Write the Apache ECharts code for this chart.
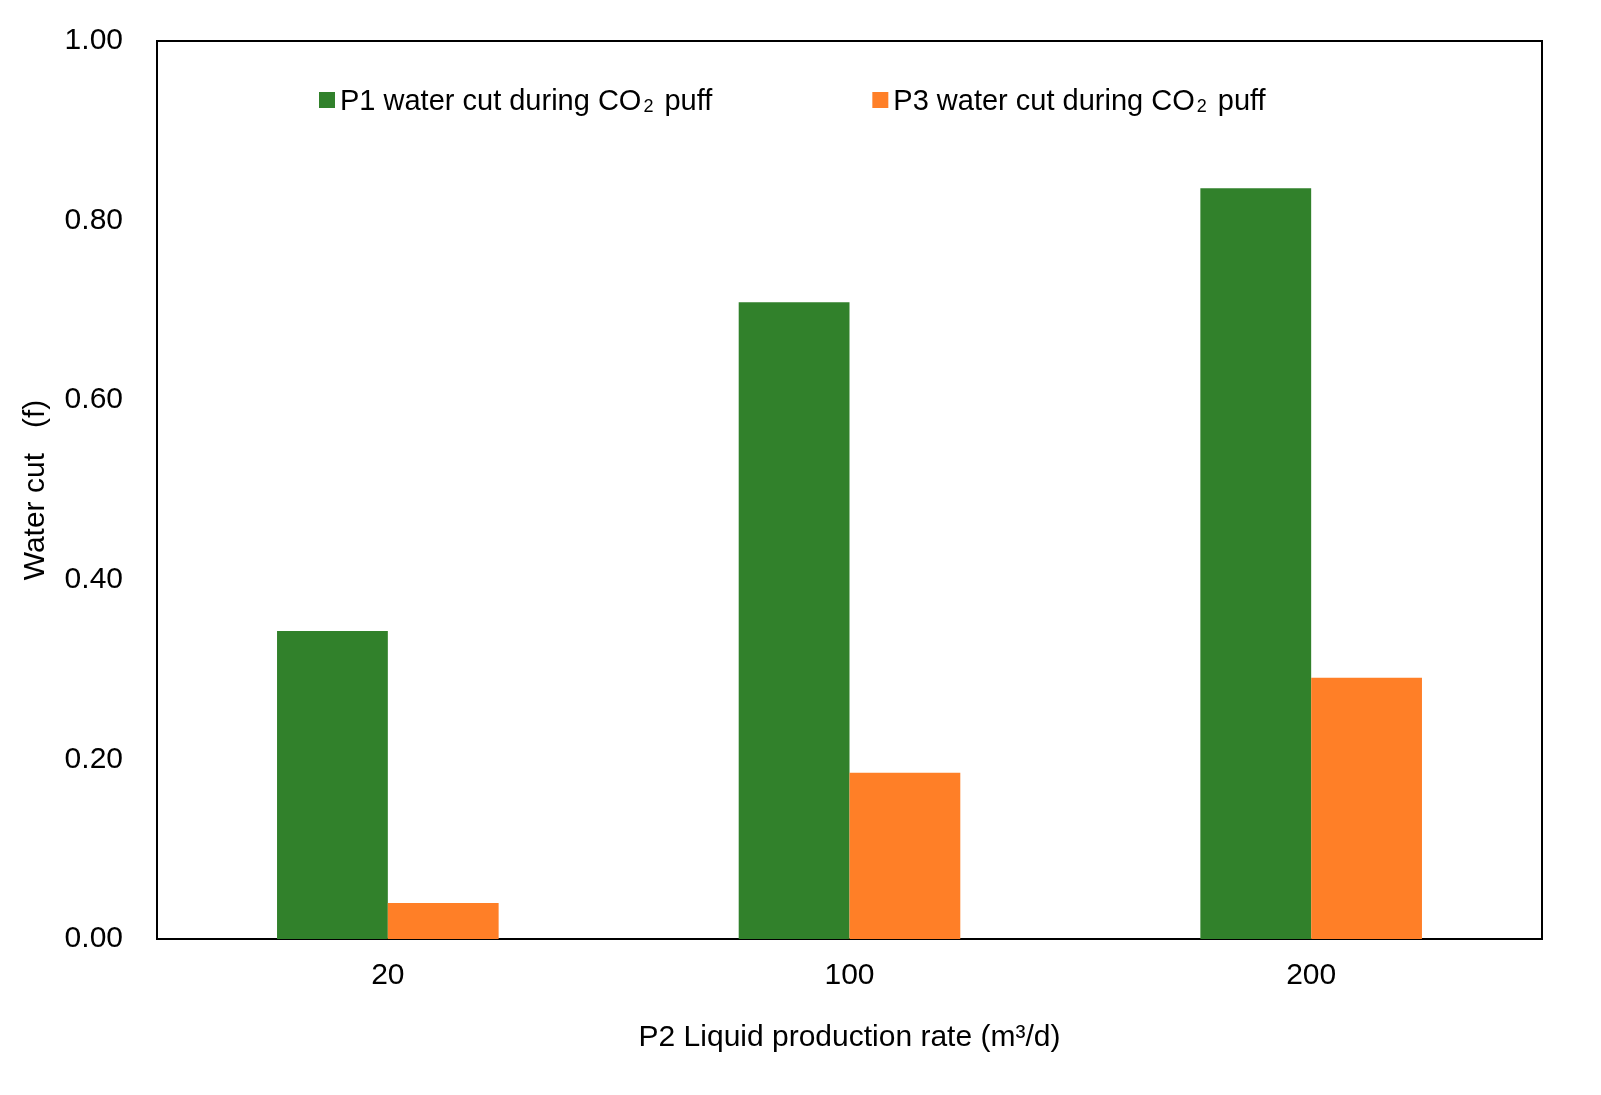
<!DOCTYPE html>
<html><head><meta charset="utf-8">
<script src="https://cdn.jsdelivr.net/npm/echarts@6/dist/echarts.min.js"></script>
<style>html,body{margin:0;padding:0;background:#fff}#c{width:1601px;height:1095px}</style>
</head><body><div id="c"></div>
<script>
const categories = ['20', '100', '200'];
const p1WaterCut = [0.343, 0.709, 0.836];
const p3WaterCut = [0.040, 0.185, 0.291];
const yTicks = [0, 0.2, 0.4, 0.6, 0.8, 1.0];

const chart = echarts.init(document.getElementById('c'));
const font = 'Liberation Sans, Arial, sans-serif';
chart.setOption({
  animation: false,
  textStyle: {fontFamily: font},
  grid: {left: 157, right: 59, top: 41, bottom: 156, show: true, borderColor: '#000', borderWidth: 2, backgroundColor: 'transparent'},
  legend: {
    left: 314, top: 82, itemWidth: 16, itemHeight: 16, itemGap: 160,
    icon: 'rect',
    formatter: function (name) {
      const p = name.split('CO2');
      return '{a|' + p[0] + 'CO}{s|2}{a|' + p[1] + '}';
    },
    textStyle: {
      color: '#000', fontFamily: font,
      rich: {
        a: {fontSize: 29, fontFamily: font, color: '#000', lineHeight: 32, verticalAlign: 'bottom'},
        s: {fontSize: 18, fontFamily: font, color: '#000', lineHeight: 8, verticalAlign: 'bottom', padding: [0, 3, 0, 2]}
      }
    },
    data: ['P1 water cut during CO2 puff', 'P3 water cut during CO2 puff']
  },
  xAxis: {
    type: 'category', data: categories,
    axisTick: {show: false},
    axisLine: {show: true, lineStyle: {color: '#000', width: 2}},
    axisLabel: {fontSize: 30, color: '#000', margin: 22, fontFamily: font},
    name: 'P2 Liquid production rate (m³/d)',
    nameLocation: 'middle', nameGap: 84,
    nameTextStyle: {fontSize: 30, color: '#000', fontFamily: font}
  },
  yAxis: {
    type: 'value', min: 0, max: 1, interval: 0.2,
    splitLine: {show: false},
    axisLine: {show: false}, axisTick: {show: false},
    axisLabel: {fontSize: 30, color: '#000', margin: 34, fontFamily: font,
      formatter: v => v.toFixed(2)},
    name: 'Water cut   (f)', nameLocation: 'middle', nameGap: 106,
    nameTextStyle: {fontSize: 30, color: '#000', fontFamily: font}
  },
  series: [
    {name: 'P1 water cut during CO2 puff', type: 'bar', data: p1WaterCut, barGap: '0%', barCategoryGap: '52%', itemStyle: {color: '#31812B'}},
    {name: 'P3 water cut during CO2 puff', type: 'bar', data: p3WaterCut, barGap: '0%', barCategoryGap: '52%', itemStyle: {color: '#FF7F27'}}
  ]
});
</script></body></html>
